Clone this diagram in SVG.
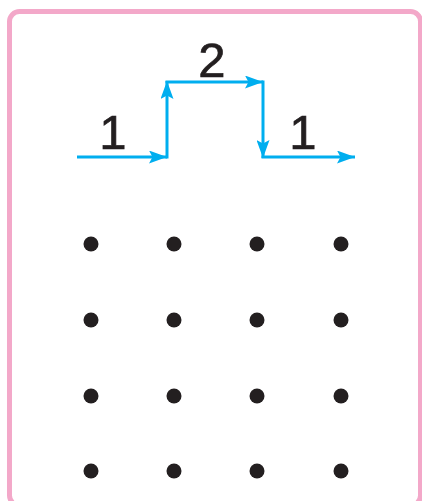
<svg xmlns="http://www.w3.org/2000/svg" width="422" height="501" viewBox="0 0 422 501">
<style>
.frame{fill:#ffffff;stroke:#f3a8c9;stroke-width:5}
.ln{fill:none;stroke:#00aeef;stroke-width:3}
.lbl{font-family:"Liberation Sans",Arial,sans-serif;font-size:49px;fill:#231f20;stroke:#231f20;stroke-width:0.7;text-anchor:middle}
.dot{fill:#231f20}
</style>
<defs>
<marker id="ah" viewBox="0 0 18 13" refX="18" refY="6.5" markerWidth="18" markerHeight="13" markerUnits="userSpaceOnUse" orient="auto">
<path d="M0,0 L18,6.5 L0,13 L3.5,6.5 Z" fill="#00aeef"/>
</marker>
</defs>
<rect class="frame" x="9.5" y="11.5" width="411" height="494" rx="10"/>
<g id="connectors">
<line class="ln" x1="77" y1="157" x2="167" y2="157" marker-end="url(#ah)"/>
<line class="ln" x1="167" y1="158.5" x2="167" y2="81" marker-end="url(#ah)"/>
<line class="ln" x1="165.5" y1="82" x2="263" y2="82" marker-end="url(#ah)"/>
<line class="ln" x1="263" y1="80.5" x2="263" y2="158" marker-end="url(#ah)"/>
<line class="ln" x1="261.5" y1="157" x2="355" y2="157" marker-end="url(#ah)"/>
</g>
<g id="labels">
<text class="lbl" x="113" y="149">1</text>
<text class="lbl" x="212" y="77">2</text>
<text class="lbl" x="303" y="149">1</text>
</g>
<g id="dots">
<circle class="dot" cx="91" cy="244" r="7.5"/>
<circle class="dot" cx="174" cy="244" r="7.5"/>
<circle class="dot" cx="257" cy="244" r="7.5"/>
<circle class="dot" cx="341" cy="244" r="7.5"/>
<circle class="dot" cx="91" cy="320" r="7.5"/>
<circle class="dot" cx="174" cy="320" r="7.5"/>
<circle class="dot" cx="257" cy="320" r="7.5"/>
<circle class="dot" cx="341" cy="320" r="7.5"/>
<circle class="dot" cx="91" cy="396" r="7.5"/>
<circle class="dot" cx="174" cy="396" r="7.5"/>
<circle class="dot" cx="257" cy="396" r="7.5"/>
<circle class="dot" cx="341" cy="396" r="7.5"/>
<circle class="dot" cx="91" cy="471" r="7.5"/>
<circle class="dot" cx="174" cy="471" r="7.5"/>
<circle class="dot" cx="257" cy="471" r="7.5"/>
<circle class="dot" cx="341" cy="471" r="7.5"/>
</g>
</svg>
